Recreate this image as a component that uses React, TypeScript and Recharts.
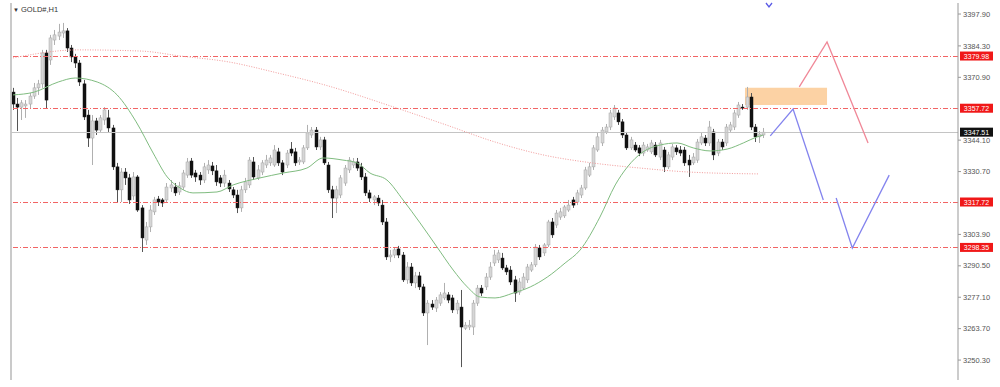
import React from 'react';
import { ComposedChart, Bar, Line, XAxis, YAxis, ReferenceLine, ReferenceArea } from 'recharts';

// GOLD#, H1 candles: [open, high, low, close]
const candles: [number, number, number, number][] = [
  [3364.6, 3366.4, 3357.0, 3359.5], [3359.5, 3362.1, 3348.0, 3358.2], [3358.2, 3361.2, 3352.7, 3360.0],
  [3358.7, 3361.2, 3353.6, 3359.5], [3359.5, 3364.2, 3357.8, 3362.9], [3362.9, 3368.5, 3361.7, 3366.4],
  [3366.4, 3369.8, 3363.4, 3368.1], [3368.1, 3382.6, 3366.4, 3381.3], [3381.3, 3382.6, 3357.8, 3361.2],
  [3378.3, 3389.0, 3376.2, 3387.7], [3386.8, 3391.1, 3384.7, 3389.0], [3388.5, 3393.7, 3386.8, 3390.2],
  [3389.8, 3394.1, 3387.7, 3390.7], [3390.7, 3391.9, 3381.7, 3383.4], [3383.4, 3384.7, 3377.4, 3379.6],
  [3379.6, 3380.9, 3374.9, 3377.0], [3377.0, 3378.3, 3367.2, 3368.9], [3368.1, 3369.8, 3352.7, 3354.0],
  [3354.8, 3357.0, 3341.2, 3345.0], [3345.0, 3354.8, 3333.5, 3352.3], [3352.3, 3353.6, 3346.3, 3348.4],
  [3348.4, 3354.8, 3347.2, 3353.6], [3352.7, 3358.2, 3350.6, 3357.0], [3353.6, 3357.0, 3347.6, 3349.3],
  [3349.3, 3350.6, 3331.4, 3332.7], [3332.7, 3334.4, 3317.3, 3322.9], [3322.9, 3332.2, 3317.7, 3330.5],
  [3330.5, 3332.2, 3325.0, 3328.0], [3328.0, 3329.7, 3316.9, 3318.6], [3320.3, 3330.5, 3318.6, 3328.4],
  [3328.4, 3329.2, 3313.5, 3314.3], [3315.2, 3316.4, 3296.4, 3302.4], [3301.5, 3309.2, 3299.4, 3307.1],
  [3307.1, 3316.4, 3304.9, 3314.3], [3313.5, 3319.9, 3312.2, 3318.6], [3319.0, 3320.3, 3316.0, 3317.7],
  [3318.6, 3319.4, 3315.6, 3317.3], [3318.6, 3325.8, 3317.3, 3324.1], [3323.7, 3327.1, 3322.0, 3325.0],
  [3324.1, 3325.8, 3320.3, 3321.6], [3322.0, 3326.3, 3320.7, 3324.6], [3324.1, 3331.4, 3322.9, 3330.1],
  [3329.2, 3336.5, 3328.0, 3334.8], [3335.2, 3336.5, 3328.0, 3329.2], [3330.1, 3331.4, 3326.3, 3328.4],
  [3329.2, 3330.5, 3325.0, 3327.1], [3327.1, 3334.4, 3325.8, 3332.7], [3331.4, 3335.6, 3329.7, 3333.5],
  [3333.1, 3334.8, 3329.2, 3331.0], [3331.0, 3333.5, 3324.6, 3326.3], [3328.0, 3329.2, 3324.1, 3325.8],
  [3325.8, 3331.4, 3324.1, 3329.2], [3325.8, 3327.1, 3322.0, 3323.3], [3322.9, 3324.1, 3319.4, 3320.7],
  [3320.7, 3322.9, 3313.0, 3315.2], [3315.2, 3324.6, 3313.5, 3322.9], [3322.9, 3328.0, 3321.6, 3326.3],
  [3325.0, 3336.9, 3323.7, 3335.6], [3334.8, 3336.9, 3327.1, 3328.4], [3328.0, 3333.5, 3327.1, 3331.4],
  [3330.5, 3335.6, 3329.2, 3334.4], [3333.5, 3337.8, 3332.2, 3335.6], [3334.4, 3337.8, 3333.1, 3336.5],
  [3333.5, 3342.0, 3332.7, 3339.9], [3339.1, 3340.8, 3333.1, 3334.4], [3334.4, 3335.6, 3329.2, 3330.5],
  [3333.5, 3339.9, 3332.2, 3338.6], [3340.3, 3343.3, 3337.3, 3338.6], [3339.1, 3340.8, 3333.1, 3334.4],
  [3334.8, 3336.9, 3333.5, 3335.6], [3334.8, 3342.0, 3333.9, 3340.8], [3340.8, 3350.6, 3339.9, 3347.2],
  [3346.3, 3349.7, 3345.0, 3348.4], [3348.4, 3349.7, 3339.9, 3341.2], [3341.2, 3345.5, 3339.9, 3344.2],
  [3344.2, 3345.5, 3333.5, 3334.4], [3333.5, 3334.8, 3321.6, 3322.9], [3322.9, 3324.6, 3310.9, 3319.4],
  [3319.4, 3324.6, 3313.0, 3322.9], [3320.7, 3329.2, 3319.4, 3328.0], [3325.8, 3333.5, 3324.6, 3332.2],
  [3331.4, 3336.9, 3330.1, 3335.6], [3333.5, 3336.5, 3332.2, 3334.8], [3334.8, 3336.5, 3331.0, 3332.2],
  [3332.7, 3334.4, 3327.1, 3328.4], [3328.4, 3330.1, 3320.3, 3321.6], [3321.6, 3322.9, 3317.7, 3319.4],
  [3318.6, 3320.7, 3316.4, 3319.9], [3319.4, 3320.7, 3316.0, 3317.3], [3316.4, 3318.6, 3307.9, 3309.2],
  [3309.2, 3310.9, 3293.0, 3294.3], [3294.3, 3297.3, 3292.1, 3295.1], [3295.1, 3298.5, 3293.8, 3297.3],
  [3297.7, 3299.0, 3293.8, 3295.1], [3295.1, 3296.4, 3283.6, 3284.5], [3284.5, 3292.1, 3282.8, 3290.0],
  [3290.0, 3291.7, 3281.9, 3283.2], [3283.2, 3287.9, 3281.0, 3286.2], [3286.2, 3287.9, 3280.2, 3281.5],
  [3281.5, 3282.8, 3269.1, 3270.4], [3270.4, 3275.9, 3256.7, 3274.6], [3274.2, 3275.9, 3271.7, 3272.9],
  [3272.5, 3277.2, 3270.8, 3275.9], [3274.6, 3279.3, 3273.4, 3278.1], [3276.8, 3283.2, 3275.9, 3278.9],
  [3278.1, 3279.3, 3274.6, 3275.9], [3276.8, 3278.1, 3270.4, 3271.7], [3271.7, 3275.9, 3269.9, 3274.6],
  [3272.9, 3280.2, 3247.3, 3264.4], [3263.9, 3266.5, 3263.1, 3265.2], [3264.4, 3267.4, 3263.1, 3265.2],
  [3264.4, 3275.9, 3261.0, 3274.6], [3274.6, 3282.3, 3273.4, 3281.0], [3281.0, 3282.3, 3277.6, 3278.9],
  [3281.5, 3287.4, 3280.2, 3285.7], [3285.7, 3292.1, 3284.5, 3290.0], [3291.7, 3297.3, 3290.4, 3295.1],
  [3293.0, 3297.3, 3291.7, 3296.0], [3293.8, 3296.0, 3288.7, 3289.6], [3289.6, 3290.9, 3286.6, 3287.9],
  [3288.7, 3290.4, 3282.3, 3283.6], [3284.5, 3286.2, 3275.1, 3278.9], [3279.3, 3285.3, 3278.1, 3283.6],
  [3281.0, 3287.4, 3280.2, 3285.7], [3284.5, 3291.3, 3283.2, 3290.0], [3288.7, 3292.1, 3287.9, 3290.9],
  [3290.9, 3299.8, 3290.0, 3298.5], [3298.1, 3299.4, 3293.0, 3294.3], [3296.0, 3300.2, 3294.7, 3299.4],
  [3299.4, 3310.1, 3298.5, 3309.2], [3309.2, 3310.9, 3302.4, 3303.7], [3307.9, 3314.3, 3306.6, 3313.0],
  [3311.3, 3315.2, 3310.1, 3313.5], [3311.8, 3316.4, 3310.9, 3315.6], [3314.3, 3318.6, 3313.5, 3316.4],
  [3318.6, 3319.9, 3315.2, 3316.4], [3317.7, 3322.9, 3316.4, 3321.6], [3320.7, 3325.0, 3319.4, 3323.7],
  [3323.7, 3332.7, 3322.9, 3331.4], [3329.2, 3334.4, 3328.4, 3332.7], [3332.7, 3342.0, 3331.4, 3340.8],
  [3339.9, 3347.2, 3339.1, 3345.5], [3342.9, 3349.7, 3341.6, 3348.4], [3347.6, 3351.0, 3346.7, 3349.7],
  [3349.7, 3357.0, 3348.4, 3355.7], [3354.0, 3359.1, 3352.7, 3357.8], [3355.7, 3357.0, 3350.6, 3351.9],
  [3351.9, 3353.1, 3345.0, 3346.3], [3346.3, 3347.6, 3339.9, 3340.8], [3340.8, 3345.5, 3339.9, 3344.2],
  [3342.0, 3343.3, 3339.1, 3339.9], [3340.8, 3342.0, 3337.3, 3338.6], [3338.6, 3343.3, 3337.3, 3342.0],
  [3339.9, 3342.5, 3339.1, 3341.2], [3339.1, 3344.2, 3338.2, 3342.9], [3342.0, 3343.3, 3336.9, 3337.8],
  [3336.9, 3344.2, 3335.6, 3342.9], [3339.9, 3341.2, 3330.5, 3332.7], [3332.7, 3339.1, 3331.8, 3337.8],
  [3336.9, 3342.5, 3335.6, 3341.2], [3340.8, 3342.0, 3337.8, 3339.1], [3339.9, 3341.6, 3337.3, 3338.6],
  [3339.9, 3341.2, 3333.1, 3334.4], [3335.6, 3337.8, 3328.4, 3333.5], [3334.4, 3338.6, 3333.5, 3336.9],
  [3335.6, 3344.6, 3334.4, 3343.3], [3342.9, 3347.2, 3342.0, 3345.5], [3345.0, 3346.3, 3341.6, 3342.9],
  [3342.9, 3352.3, 3341.6, 3349.7], [3347.6, 3348.9, 3335.6, 3337.8], [3338.6, 3344.6, 3337.3, 3343.3],
  [3343.3, 3344.6, 3339.9, 3341.2], [3342.9, 3351.0, 3341.6, 3349.7], [3348.4, 3351.9, 3347.6, 3350.6],
  [3349.7, 3357.0, 3348.4, 3355.7], [3354.8, 3360.4, 3353.6, 3359.1], [3358.2, 3359.5, 3357.0, 3357.8],
  [3358.2, 3366.8, 3357.0, 3362.5], [3362.5, 3364.2, 3348.4, 3349.7], [3349.7, 3351.0, 3343.3, 3345.5],
  [3345.5, 3348.0, 3342.9, 3346.7], [3346.3, 3349.3, 3345.0, 3347.51],
];

// fast moving average (green), read at sample bars: [bar, price]
const fastMa: [number, number][] = [
  [0, 3363.4], [5.1, 3364.6], [10.9, 3368.9], [15, 3370.6], [20.3, 3368.9], [25.1, 3363.4],
  [29.7, 3351.9], [33.8, 3338.6], [37.2, 3328.4], [40.3, 3323.7], [43.4, 3321.6], [49.2, 3322.0],
  [53.1, 3325.0], [59.6, 3328.0], [65.2, 3330.1], [70.9, 3332.2], [74.8, 3336.5], [79.6, 3335.6],
  [83, 3334.4], [86.1, 3330.1], [90.2, 3327.1], [94.1, 3318.6], [98.2, 3308.8], [102.3, 3298.5],
  [106.2, 3288.7], [109.6, 3281.5], [112.7, 3277.2], [116.3, 3276.8], [120.7, 3278.9], [124.8, 3281.5],
  [128.9, 3285.7], [133.2, 3291.7], [136.8, 3297.2], [141.6, 3311.3], [145.3, 3325.0], [148.2, 3332.6],
  [152, 3339.1], [156.1, 3342.0], [160.2, 3342.9], [164.1, 3340.8], [168.2, 3339.5], [172.3, 3340.3],
  [176.2, 3342.9], [179.5, 3345.5], [181, 3346.3],
];

// slow moving average (red dotted)
const slowMa: [number, number][] = [
  [0, 3379.2], [15.7, 3382.6], [30.9, 3382.1], [40.3, 3380.0], [51.9, 3377.5], [63.7, 3372.8],
  [75.3, 3367.6], [91.7, 3358.3], [104.5, 3350.6], [116.3, 3343.3], [127.9, 3337.8], [139.7, 3334.4],
  [151.3, 3332.2], [163.1, 3330.5], [180, 3329.7],
];

// projected paths
const redPath: [number, number][] = [[189.7, 3366.8], [196.4, 3386.0], [206.3, 3342.9]];
const bluePathA: [number, number][] = [[182.7, 3345.9], [188.2, 3357.4], [195.5, 3318.6]];
const bluePathB: [number, number][] = [[198.6, 3319.4], [202.5, 3298.1], [211.4, 3329.2]];

// supply zone: bars and prices
const zoneBars = [176.6, 196.4];
const zonePrices = [3359.1, 3366.4];

const yTicks = [3397.9, 3384.3, 3370.9, 3344.1, 3330.7, 3303.9, 3290.5, 3277.1, 3263.7, 3250.3];
const levels = [3379.98, 3357.72, 3317.72, 3298.35];
const bid = 3347.51;

const candleData = candles.map(([o, h, l, c], i) => ({ i, o, h, l, c }));
const toPts = (arr: [number, number][]) => arr.map(([i, v]) => ({ i, v }));

function Candle(props: any) {
  const { x, y, width, height, payload } = props;
  const { o, h, l, c } = payload;
  const hh = Math.abs(height);
  const top = Math.min(y, y + height);
  const ratio = h === l ? 0 : hh / (h - l);
  const yOf = (v: number) => top + (h - v) * ratio;
  const bull = c >= o;
  const bodyTop = yOf(Math.max(o, c));
  const bodyH = Math.max(1, yOf(Math.min(o, c)) - bodyTop);
  const cx = Math.round(x + width / 2) + 0.5;
  return (
    <g>
      <line x1={cx} x2={cx} y1={top} y2={top + hh} stroke={bull ? '#b0b0b0' : '#555'} strokeWidth={1} />
      <rect
        x={cx - 1.5}
        y={bodyTop}
        width={3}
        height={bodyH}
        fill={bull ? '#d6d6d6' : '#111'}
        stroke={bull ? '#a6a6a6' : '#111'}
        strokeWidth={0.5}
      />
    </g>
  );
}

const priceTag = (bg: string) => (props: any) => {
  const vb = props.viewBox || {};
  const x = (vb.x || 0) + (vb.width || 0) + 2;
  const y = vb.y || 0;
  return (
    <g>
      <rect x={x} y={y - 4.5} width={33} height={9} fill={bg} />
      <text x={x + 16.5} y={y + 2.6} textAnchor="middle" fontSize={7} fill="#fff" fontFamily="Liberation Sans">
        {props.value}
      </text>
    </g>
  );
};

export default function App() {
  return (
    <div style={{ position: 'absolute', left: 0, top: 0, width: 1000, height: 387, background: '#fff', fontFamily: 'Liberation Sans' }}>
      <ComposedChart width={1000} height={387} data={candleData} margin={{ top: 3, right: 0, bottom: 7, left: 11 }}>
        <XAxis type="number" dataKey="i" domain={[-0.5, 228]} allowDataOverflow hide />
        <YAxis
          orientation="right"
          type="number"
          domain={[3241.8, 3402.6]}
          allowDataOverflow
          ticks={yTicks}
          width={42}
          tickFormatter={(v: number) => v.toFixed(2)}
          tick={{ fontSize: 7.5, fill: '#555', textAnchor: 'start' }}
          tickSize={3}
          tickMargin={2}
          axisLine={{ stroke: '#999' }}
          tickLine={{ stroke: '#999' }}
        />
        <ReferenceLine x={-0.5} stroke="#b8b8b8" strokeWidth={1.5} />
        <ReferenceArea
          x1={zoneBars[0]}
          x2={zoneBars[1]}
          y1={zonePrices[0]}
          y2={zonePrices[1]}
          fill="#fcd2a4"
          fillOpacity={1}
          stroke="none"
        />
        {levels.map((v) => (
          <ReferenceLine
            key={v}
            y={v}
            stroke="#f26464"
            strokeDasharray="5 2 1 2"
            strokeWidth={1}
            shapeRendering="crispEdges"
            label={{ value: v.toFixed(2), content: priceTag('#f01818') }}
          />
        ))}
        <ReferenceLine
          y={bid}
          stroke="#c4c4c4"
          strokeWidth={1}
          shapeRendering="crispEdges"
          label={{ value: bid.toFixed(2), content: priceTag('#111') }}
        />
        <Line
          data={toPts(slowMa)}
          dataKey="v"
          type="monotone"
          stroke="#f29a9a"
          strokeWidth={1}
          strokeDasharray="1 1.5"
          dot={false}
          isAnimationActive={false}
        />
        <Bar dataKey={(d: any) => [d.l, d.h]} barSize={3} shape={<Candle />} isAnimationActive={false} />
        <Line data={toPts(fastMa)} dataKey="v" type="monotone" stroke="#80bc80" strokeWidth={1} dot={false} isAnimationActive={false} />
        <Line data={toPts(redPath)} dataKey="v" type="linear" stroke="#f08898" strokeWidth={1.3} dot={false} isAnimationActive={false} />
        <Line data={toPts(bluePathA)} dataKey="v" type="linear" stroke="#8484ee" strokeWidth={1.3} dot={false} isAnimationActive={false} />
        <Line data={toPts(bluePathB)} dataKey="v" type="linear" stroke="#8484ee" strokeWidth={1.3} dot={false} isAnimationActive={false} />
      </ComposedChart>
      <div style={{ position: 'absolute', left: 13, top: 5, fontSize: 7.5, color: '#333', whiteSpace: 'nowrap', lineHeight: '9px' }}>
        <span style={{ fontSize: 6 }}>▼</span> GOLD#,H1
      </div>
      <svg style={{ position: 'absolute', left: 0, top: 0 }} width={1000} height={12}>
        <path d="M766,3 L769,7 L772,3" stroke="#5a5ae6" strokeWidth={1.3} fill="none" />
      </svg>
    </div>
  );
}
